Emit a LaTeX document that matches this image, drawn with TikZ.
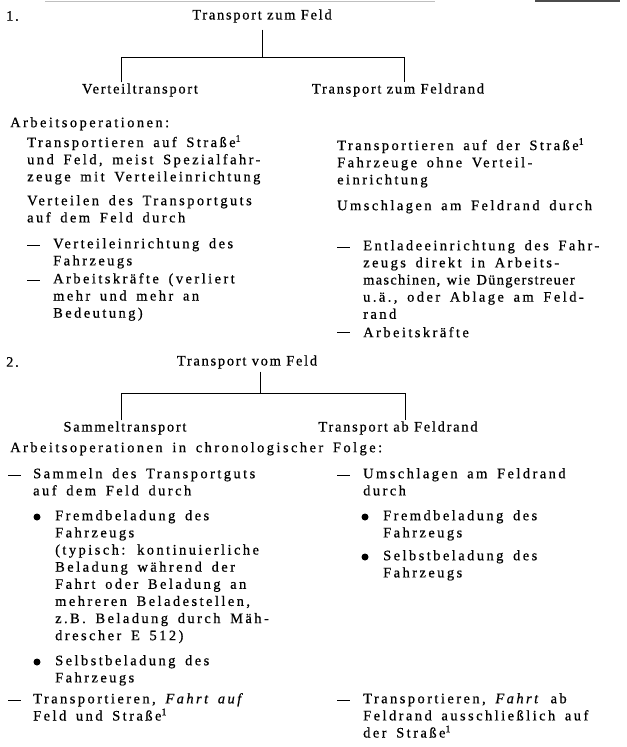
\documentclass[tikz,border=0pt]{standalone}
\usepackage{fontspec}
\setmainfont{Liberation Serif}[LetterSpace=12, FakeBold=0.6]
\newfontfamily\bodyfamily{Liberation Serif}[LetterSpace=17, WordSpace=1.6, FakeBold=0.6]
\newfontfamily\knapp{Liberation Serif}[LetterSpace=9, WordSpace=1.3, FakeBold=0.6]
\usepackage{tikz}

\newcommand{\bodyfont}{\bodyfamily\fontsize{14.5}{17.2}\selectfont}
\newcommand{\headfont}{\fontsize{14.5}{17.2}\selectfont}
\newcommand{\strich}{\rule[4bp]{13bp}{1bp}}

\begin{document}
\begin{tikzpicture}[x=1bp, y=-1bp,
    txt/.style={anchor=north west, inner sep=0pt, yshift=-2bp, align=left, font=\bodyfont, execute at begin node=\strut},
    head/.style={inner sep=1pt, font=\headfont},
    dot/.style={circle, fill, inner sep=0pt, minimum size=7bp}]
    \useasboundingbox (0,0) rectangle (627,747);

    % edge of the page above
    \draw[black!25, line width=0.6pt] (45,1) -- (435,1);
    \draw[black!70, line width=1.2pt] (535,1) -- (620,1);

    % 1. Transport zum Feld
    \node[head, anchor=west] (n1) at (5,16) {1.};
    \node[head] (t1) at (262,16) {Transport zum Feld};
    \node[head] (v1) at (140,90) {Verteiltransport};
    \node[head] (r1) at (398,90) {Transport zum Feldrand};
    \coordinate (b1l) at (121,57);
    \coordinate (b1r) at (404,57);
    \draw ([yshift=-6bp]t1.south) -- (t1.south |- b1l);
    \draw (b1l |- v1.north) -- (b1l) -- (b1r) -- (b1r |- r1.north);

    \node[txt] (a1) at (10,113) {Arbeitsoperationen:};
    % Verteiltransport
    \node[txt] (p1) at (27,133) {Transportieren auf Straße\textsuperscript{1}\\und Feld, meist Spezialfahr-\\zeuge mit Verteileinrichtung};
    \node[txt] (p2) at (27,193) {Verteilen des Transportguts\\auf dem Feld durch};
    \node[txt] (p3d) at (27,236) {\strich};
    \node[txt] (p3) at (53,236) {Verteileinrichtung des\\Fahrzeugs};
    \node[txt] (p4d) at (27,271) {\strich};
    \node[txt] (p4) at (53,271) {Arbeitskräfte (verliert\\mehr und mehr an\\Bedeutung)};
    % Transport zum Feldrand
    \node[txt] (q1) at (337,136) {Transportieren auf der Straße\textsuperscript{1}\\Fahrzeuge ohne Verteil-\\einrichtung};
    \node[txt] (q2) at (337,196) {Umschlagen am Feldrand durch};
    \node[txt] (q3d) at (337,238) {\strich};
    \node[txt] (q3) at (363,238) {Entladeeinrichtung des Fahr-\\zeugs direkt in Arbeits-\\{\knapp maschinen, wie Düngerstreuer}\\u.\,ä., oder Ablage am Feld-\\rand};
    \node[txt] (q4d) at (337,323) {\strich};
    \node[txt] (q4) at (363,323) {Arbeitskräfte};

    % 2. Transport vom Feld
    \node[head, anchor=west] (n2) at (5,362) {2.};
    \node[head] (t2) at (247,362) {Transport vom Feld};
    \node[head] (v2) at (125,428) {Sammeltransport};
    \node[head] (r2) at (398,428) {Transport ab Feldrand};
    \coordinate (b2l) at (121,393);
    \coordinate (b2r) at (405,393);
    \draw ([xshift=13bp,yshift=-2bp]t2.south) -- ([xshift=13bp]t2.south |- b2l);
    \draw (b2l |- v2.north) -- (b2l) -- (b2r) -- (b2r |- r2.north);

    \node[txt] (a2) at (10,438) {Arbeitsoperationen in chronologischer Folge:};
    % Sammeltransport
    \node[txt] (s1d) at (8,466) {\strich};
    \node[txt] (s1) at (33,466) {Sammeln des Transportguts\\auf dem Feld durch};
    \node[dot] (s2b) at (37,517) {};
    \node[txt] (s2) at (55,508) {Fremdbeladung des\\Fahrzeugs\\(typisch: kontinuierliche\\Beladung während der\\Fahrt oder Beladung an\\mehreren Beladestellen,\\z.\,B. Beladung durch Mäh-\\drescher E 512)};
    \node[dot] (s3b) at (37,662) {};
    \node[txt] (s3) at (55,653) {Selbstbeladung des\\Fahrzeugs};
    \node[txt] (s4d) at (8,691) {\strich};
    \node[txt] (s4) at (33,691) {Transportieren, \textit{Fahrt auf}\\Feld und Straße\textsuperscript{1}};
    % Transport ab Feldrand
    \node[txt] (u1d) at (337,466) {\strich};
    \node[txt] (u1) at (363,466) {Umschlagen am Feldrand\\durch};
    \node[dot] (u2b) at (365,517) {};
    \node[txt] (u2) at (383,508) {Fremdbeladung des\\Fahrzeugs};
    \node[dot] (u3b) at (365,557) {};
    \node[txt] (u3) at (383,548) {Selbstbeladung des\\Fahrzeugs};
    \node[txt] (u4d) at (337,691) {\strich};
    \node[txt] (u4) at (363,691) {Transportieren, \textit{Fahrt} ab\\Feldrand ausschließlich auf\\der Straße\textsuperscript{1}};
\end{tikzpicture}
\end{document}
